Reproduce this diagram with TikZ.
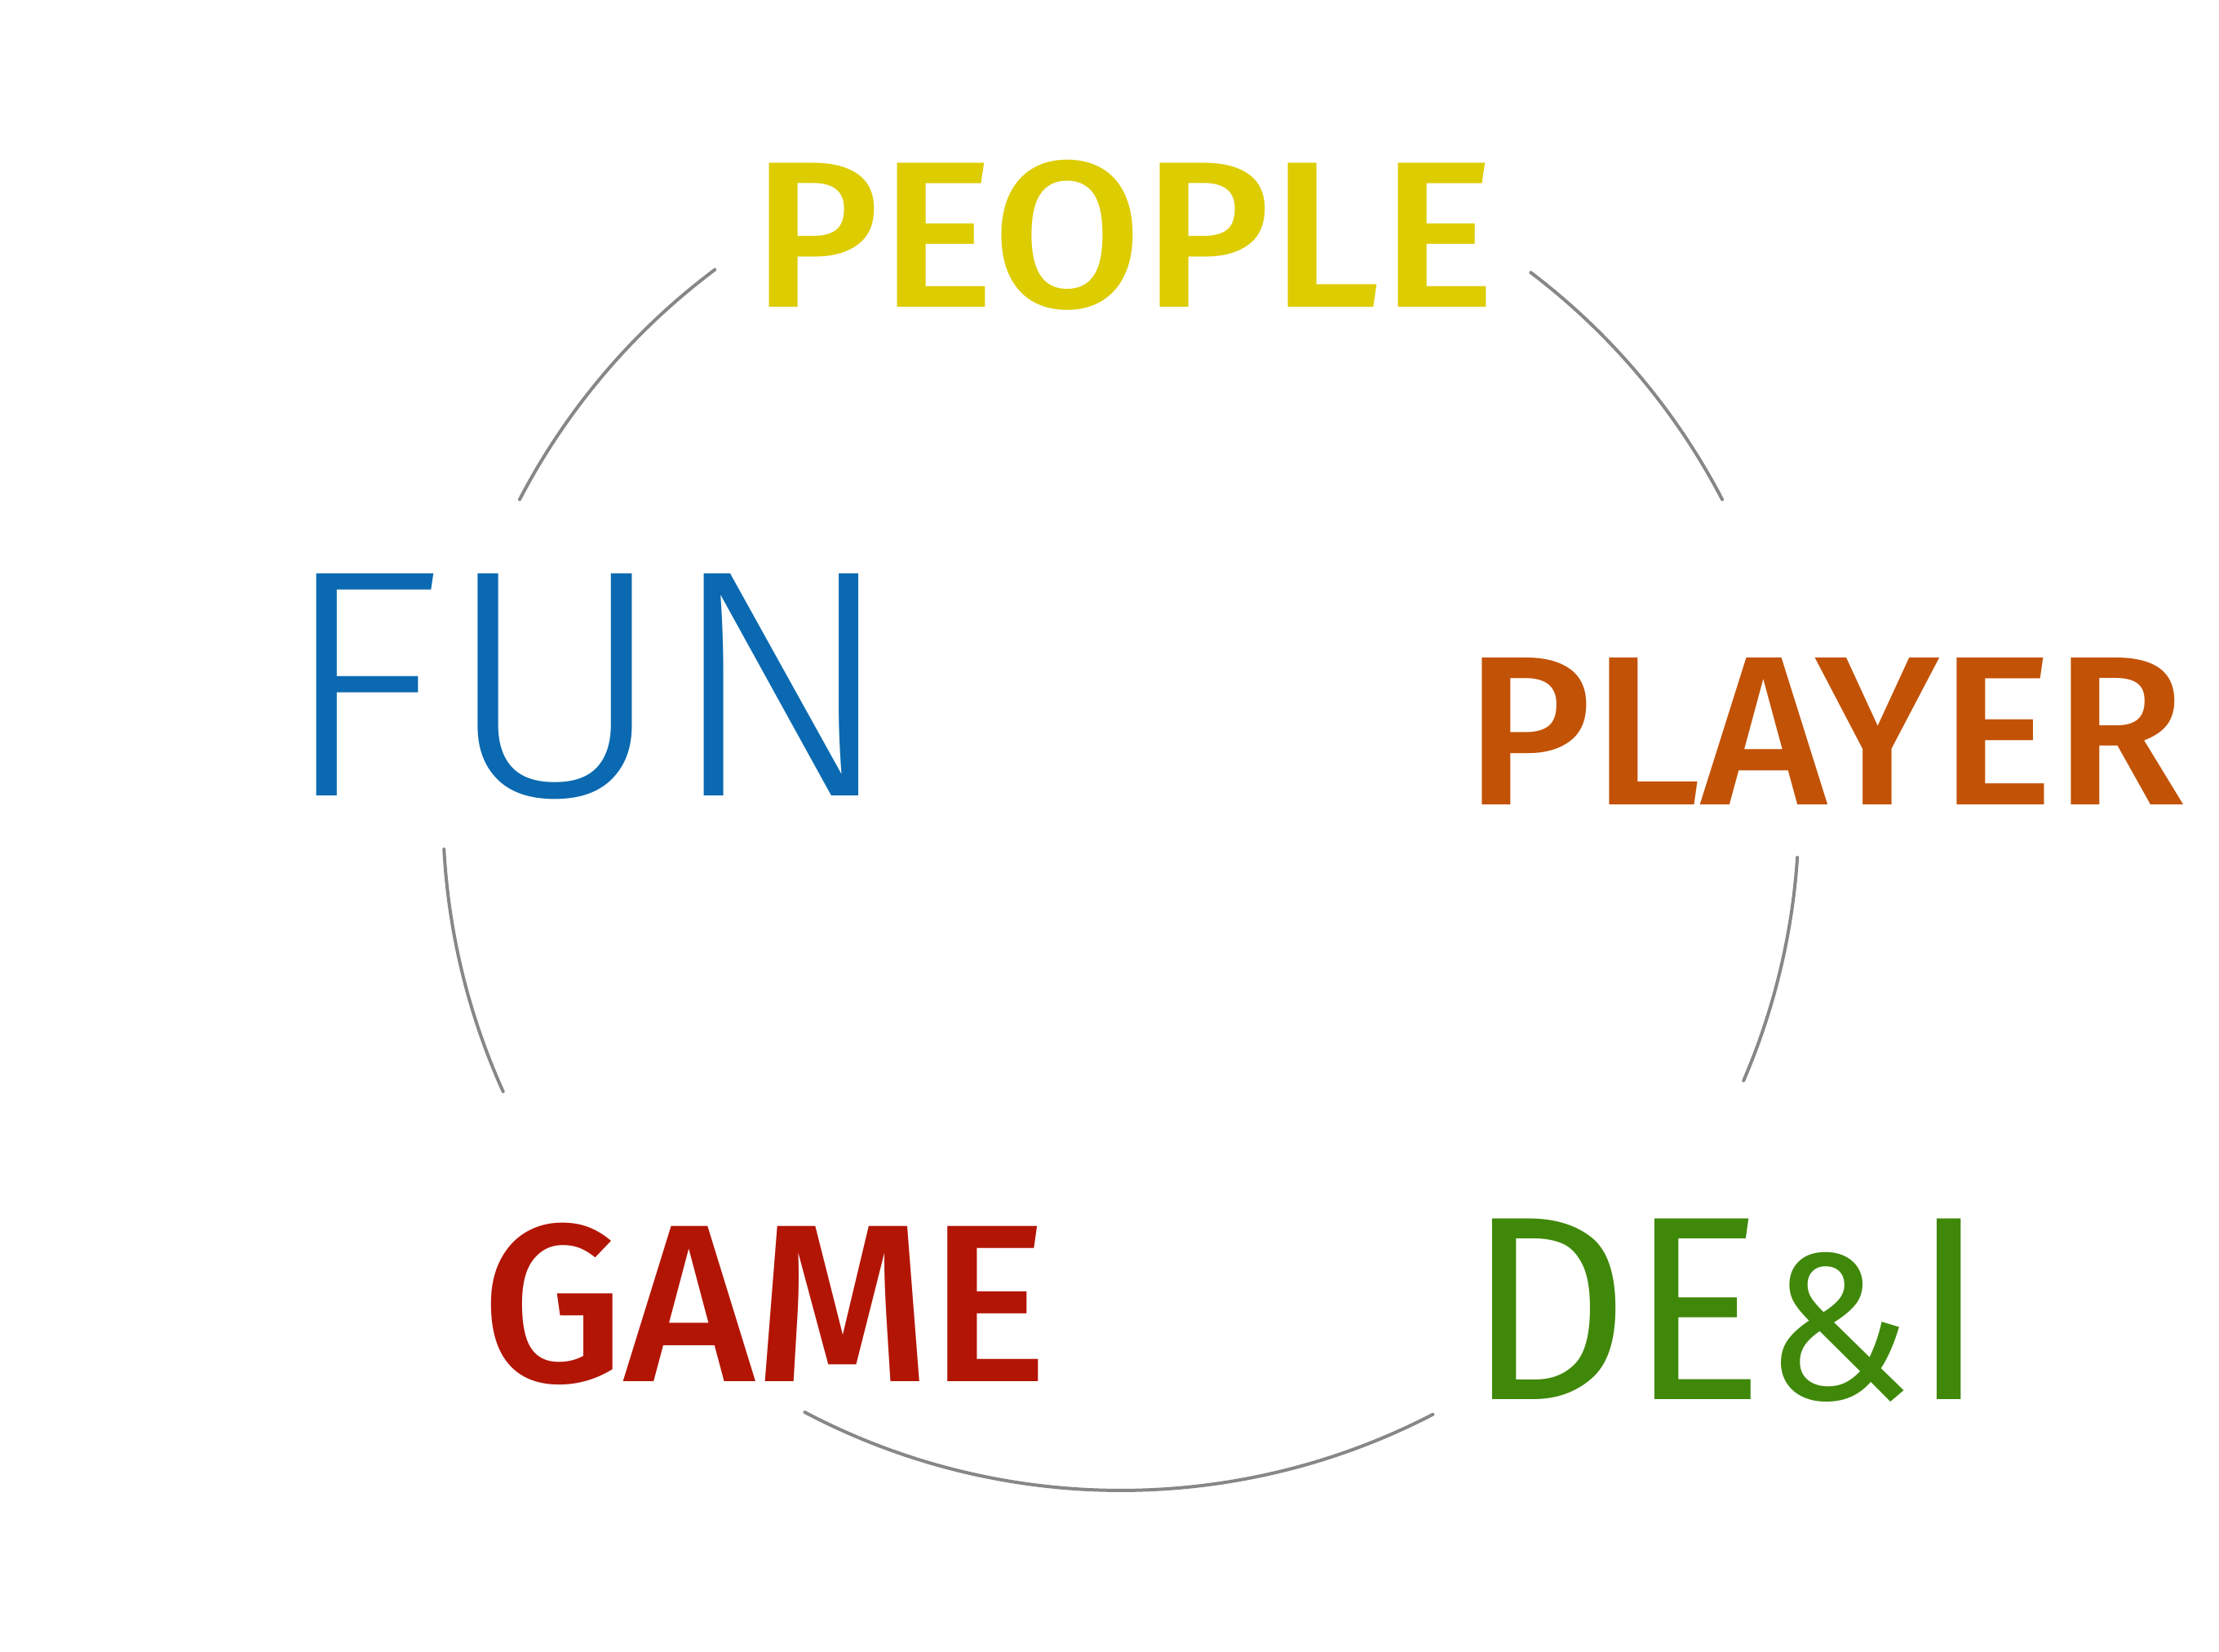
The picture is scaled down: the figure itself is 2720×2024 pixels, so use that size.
\documentclass[tikz,border=0pt]{standalone}
\usepackage{fontspec}
\usepackage{graphicx}
\newfontfamily\wordmed{Fira Sans Medium}
\newfontfamily\wordlight{Fira Sans Light}
\newfontfamily\wordbook{Fira Sans}
\definecolor{cpeople}{HTML}{DDCC00}
\definecolor{cfun}{HTML}{0A69B0}
\definecolor{cplayer}{HTML}{C25205}
\definecolor{cgame}{HTML}{B31505}
\definecolor{cdei}{HTML}{40880A}
\definecolor{carc}{HTML}{878787}
\begin{document}
\begin{tikzpicture}[x=1pt,y=1pt,
  word/.style={inner sep=0pt, outer sep=0pt, anchor=base west},
  arcline/.style={draw=carc, line width=4pt, line cap=round}]
\useasboundingbox[fill=white] (0,0) rectangle (2720,2024);
\coordinate (c) at (1374,1028);
\node[word, text=cpeople] (people) at (921.5,1647) {\resizebox{911pt}{180pt}{\wordmed PEOPLE}};
\node[word, text=cfun] (fun) at (341,1048) {\resizebox{756pt}{272pt}{\wordlight FUN}};
\node[word, text=cplayer] (player) at (1795.6,1037) {\resizebox{882pt}{180pt}{\wordmed PLAYER}};
\node[word, text=cgame] (game) at (590.3,330) {\resizebox{694pt}{194pt}{\wordmed GAME}};
\node[word, text=cdei] (dei) at (1798.7,308) {\resizebox{636pt}{221pt}{\wordbook DE\scalebox{0.8}{\&}I}};
\draw[arcline] (c) ++(126.8:831) arc[start angle=126.8, end angle=152.5, radius=831];
\draw[arcline] (c) ++(52.8:831) arc[start angle=52.8, end angle=27.5, radius=831];
\draw[arcline] (c) ++(-3.8:831) arc[start angle=-3.8, end angle=-23.3, radius=831];
\draw[arcline] (c) ++(-62.6:831) arc[start angle=-62.6, end angle=-117.8, radius=831];
\draw[arcline] (c) ++(204.3:831) arc[start angle=204.3, end angle=183.1, radius=831];
\end{tikzpicture}
\end{document}
